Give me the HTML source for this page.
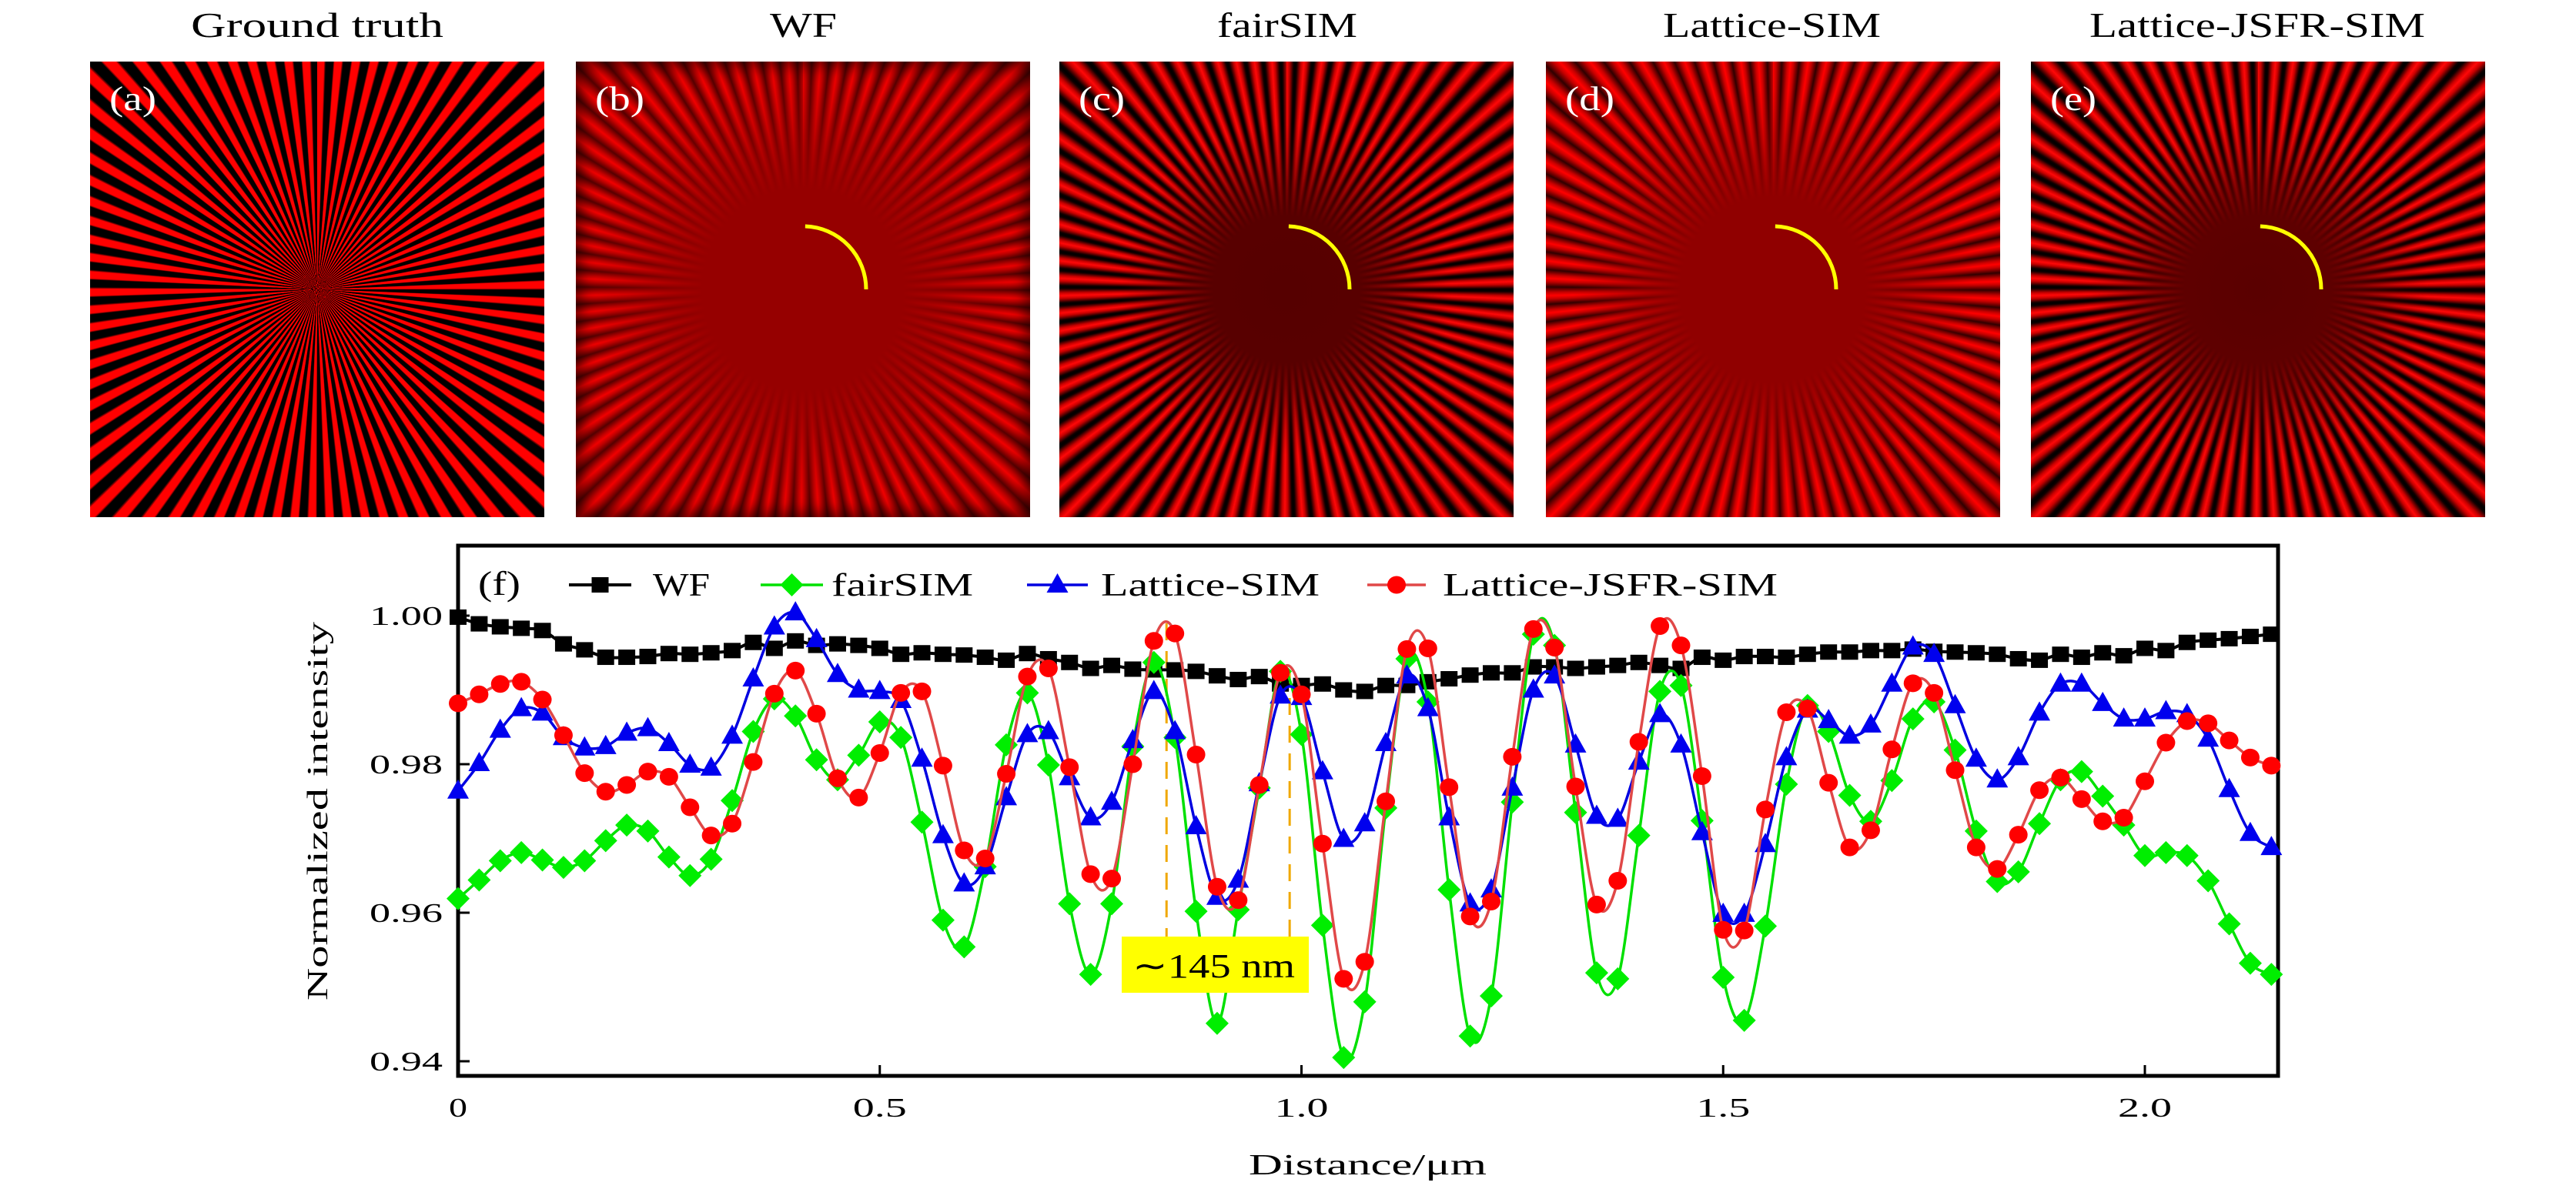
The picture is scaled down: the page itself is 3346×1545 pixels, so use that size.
<!DOCTYPE html>
<html><head><meta charset="utf-8">
<style>
html,body{margin:0;padding:0;background:#fff;}
body{width:3346px;height:1545px;position:relative;overflow:hidden;font-family:"Liberation Serif",serif;}
.panel{position:absolute;top:80px;width:590px;height:592px;overflow:hidden;}
.gt{background:repeating-conic-gradient(from 0deg at 50% 50%,#ff0000 0deg,#ff0000 1.7deg,#8a0000 1.9deg,#000 2.2deg,#000 4.0deg,#8a0000 4.2deg,#ff0000 4.4deg);}
.hc{background:repeating-conic-gradient(from 0deg at 50% 50%,#ff0808 0deg,#c80000 0.7deg,#100000 1.8deg,#000 2.2deg,#100000 2.6deg,#c80000 3.7deg,#ff0808 4.4deg);}
.lc{background:repeating-conic-gradient(from 0deg at 50% 50%,#f00000 0deg,#c00000 0.8deg,#560000 2.2deg,#c00000 3.6deg,#f00000 4.4deg);}
.mc{background:repeating-conic-gradient(from 0deg at 50% 50%,#ff0000 0deg,#c80000 0.8deg,#300000 2.2deg,#c80000 3.6deg,#ff0000 4.4deg);}
.ov{position:absolute;left:0;top:0;width:100%;height:100%;}
svg{position:absolute;left:0;top:0;}
</style></head>
<body>
<div class="panel gt" style="left:117px"></div>
<div class="panel lc" style="left:748px">
  <div class="ov" style="background:radial-gradient(circle at 50% 50%,#960000 0,#960000 130px,rgba(150,0,0,0.7) 180px,rgba(150,0,0,0.3) 230px,rgba(150,0,0,0) 280px);"></div>
  <div class="ov" style="box-shadow:inset 0 0 20px 6px rgba(0,0,0,0.6);"></div>
</div>
<div class="panel hc" style="left:1376px">
  <div class="ov" style="background:radial-gradient(circle at 50% 50%,#560000 0,#580000 95px,rgba(88,0,0,0.75) 130px,rgba(88,0,0,0.3) 175px,rgba(88,0,0,0) 215px);"></div>
</div>
<div class="panel mc" style="left:2008px">
  <div class="ov" style="background:radial-gradient(circle at 50% 50%,#900000 0,#900000 120px,rgba(144,0,0,0.7) 165px,rgba(144,0,0,0.3) 215px,rgba(144,0,0,0) 260px);"></div>
</div>
<div class="panel hc" style="left:2638px">
  <div class="ov" style="background:radial-gradient(circle at 50% 50%,#5a0000 0,#5e0000 95px,rgba(94,0,0,0.75) 135px,rgba(94,0,0,0.3) 180px,rgba(94,0,0,0) 220px);"></div>
</div>

<svg id="chart" width="3346" height="1545" viewBox="0 0 3346 1545" xmlns="http://www.w3.org/2000/svg" font-family="Liberation Serif, serif">
  <g font-size="46" fill="#000">
    <text x="248" y="48" textLength="328" lengthAdjust="spacingAndGlyphs">Ground truth</text>
    <text x="1000" y="48" textLength="87" lengthAdjust="spacingAndGlyphs">WF</text>
    <text x="1581" y="48" textLength="182" lengthAdjust="spacingAndGlyphs">fairSIM</text>
    <text x="2160" y="48" textLength="283" lengthAdjust="spacingAndGlyphs">Lattice-SIM</text>
    <text x="2714" y="48" textLength="436" lengthAdjust="spacingAndGlyphs">Lattice-JSFR-SIM</text>
  </g>
  <g font-size="44" fill="#fff">
    <text x="142" y="143" textLength="61" lengthAdjust="spacingAndGlyphs">(a)</text>
    <text x="773" y="143" textLength="64" lengthAdjust="spacingAndGlyphs">(b)</text>
    <text x="1401" y="143" textLength="60" lengthAdjust="spacingAndGlyphs">(c)</text>
    <text x="2033" y="143" textLength="64" lengthAdjust="spacingAndGlyphs">(d)</text>
    <text x="2663" y="143" textLength="60" lengthAdjust="spacingAndGlyphs">(e)</text>
  </g>
  <g id="arcs"></g>
  <g id="plot"></g>
</svg>

<script>
// ---- chart data ----
const xStep = 0.025;
const xTicks = [0, 0.5, 1.0, 1.5, 2.0];
const xTickLabels = ["0", "0.5", "1.0", "1.5", "2.0"];
const yTicks = [0.94, 0.96, 0.98, 1.00];
const yTickLabels = ["0.94", "0.96", "0.98", "1.00"];
const seriesNames = ["WF", "fairSIM", "Lattice-SIM", "Lattice-JSFR-SIM"];
const wfValues = [.9998,.9989,.9985,.9983,.9980,.9962,.9954,.9944,.9944,.9945,.9949,.9948,.9950,.9953,.9964,.9956,.9966,.9960,.9962,.9960,.9956,
 .9948,.9950,.9948,.9947,.9944,.9940,.9949,.9942,.9937,.9929,.9933,.9928,.9927,.9927,.9925,.9919,.9914,.9918,.9908,.9906,
 .9908,.9900,.9898,.9906,.9906,.9911,.9915,.9920,.9923,.9923,.9931,.9931,.9929,.9931,.9933,.9937,.9933,.9929,.9944,
 .9940,.9945,.9945,.9944,.9948,.9951,.9951,.9953,.9953,.9955,.9952,.9951,.9950,.9948,.9942,.9940,.9948,.9944,.9950,.9946,
 .9956,.9953,.9964,.9967,.9969,.9972,.9975];
const fairValues = [.9619,.9644,.9670,.9681,.9671,.9661,.9670,.9697,.9718,.9710,.9675,.9650,.9672,.9751,.9844,.9888,.9865,.9806,.9779,.9812,.9857,
 .9836,.9722,.9590,.9554,.9662,.9826,.9896,.9799,.9612,.9517,.9612,.9824,.9937,.9836,.9602,.9451,.9604,.9768,.9925,.9840,
 .9583,.9405,.9480,.9741,.9942,.9884,.9631,.9434,.9488,.9749,.9975,.9960,.9735,.9519,.9511,.9704,.9898,.9906,.9724,
 .9513,.9455,.9582,.9773,.9879,.9844,.9758,.9723,.9778,.9861,.9884,.9819,.9710,.9642,.9655,.9720,.9779,.9790,.9757,.9718,
 .9677,.9681,.9677,.9643,.9585,.9532,.9517];
const latticeValues = [.9764,.9801,.9846,.9875,.9869,.9836,.9822,.9824,.9842,.9848,.9828,.9799,.9795,.9838,.9915,.9985,1.0004,.9968,.9921,.9900,.9898,
 .9886,.9807,.9704,.9639,.9662,.9755,.9840,.9844,.9782,.9728,.9749,.9832,.9898,.9844,.9716,.9621,.9644,.9774,.9892,.9890,
 .9790,.9699,.9720,.9828,.9919,.9875,.9728,.9612,.9631,.9768,.9900,.9919,.9826,.9730,.9726,.9803,.9867,.9826,.9708,
 .9598,.9598,.9692,.9809,.9873,.9859,.9838,.9853,.9908,.9958,.9948,.9879,.9807,.9779,.9809,.9869,.9908,.9908,.9882,.9861,
 .9861,.9871,.9867,.9834,.9766,.9707,.9688];
const jsfrValues = [.9882,.9894,.9908,.9911,.9887,.9839,.9788,.9763,.9772,.9790,.9783,.9742,.9704,.9720,.9803,.9895,.9926,.9868,.9781,.9755,.9815,
 .9896,.9898,.9798,.9684,.9673,.9787,.9918,.9929,.9796,.9652,.9646,.9800,.9966,.9976,.9813,.9635,.9617,.9772,.9923,.9894,
 .9693,.9511,.9534,.9750,.9955,.9956,.9769,.9595,.9615,.9810,.9982,.9957,.9770,.9611,.9643,.9830,.9986,.9960,.9784,
 .9577,.9576,.9739,.9870,.9875,.9775,.9688,.9711,.9820,.9909,.9896,.9792,.9688,.9659,.9705,.9765,.9782,.9753,.9723,.9728,
 .9777,.9829,.9858,.9855,.9832,.9809,.9798];
const annotationX = [0.84, 0.986];
const annotationText = "\u223C145 nm";

const NS = "http://www.w3.org/2000/svg";
const L = 595, R = 2959, T = 709, B = 1398;
function xs(v){ return 595 + v * 1095.5; }
function ys(v){ return 1379 - (v - 0.94) * 9650; }
function mk(tag, attrs, parent){
  const e = document.createElementNS(NS, tag);
  for (const k in attrs) e.setAttribute(k, attrs[k]);
  parent.appendChild(e);
  return e;
}
const plot = document.getElementById('plot');

// arcs on images
const arcs = document.getElementById('arcs');
[748, 1376, 2008, 2638].forEach(function(px){
  const cx = px + 295, cy = 376, r = 82;
  const a0 = -88 * Math.PI / 180;
  const p = mk('path', {d: 'M' + (cx + r*Math.cos(a0)) + ' ' + (cy + r*Math.sin(a0)) + ' A ' + r + ' ' + r + ' 0 0 1 ' + (cx + r) + ' ' + cy, fill: 'none', stroke: '#ffff00', 'stroke-width': 5}, arcs);
  
  
});

// frame
const frame = mk('rect', {x: L, y: T, width: R - L, height: B - T, fill: '#fff', stroke: '#000', 'stroke-width': 5}, plot);



// ticks
yTicks.forEach(function(v, i){
  const y = ys(v);
  const t = mk('line', {x1: L, x2: L + 15, y1: y, y2: y, stroke: '#000', 'stroke-width': 3}, plot);
  
  
  const lb = mk('text', {x: 575, y: y + 12, 'text-anchor': 'end', 'font-size': 35, textLength: 95, lengthAdjust: 'spacingAndGlyphs'}, plot);
  lb.textContent = yTickLabels[i];
  
  
});
xTicks.forEach(function(v, i){
  const x = xs(v);
  const t = mk('line', {x1: x, x2: x, y1: B, y2: B - 14, stroke: '#000', 'stroke-width': 3}, plot);
  
  
  const w = xTickLabels[i].length === 1 ? 24 : 70;
  const lb = mk('text', {x: x, y: 1451, 'text-anchor': 'middle', 'font-size': 35, textLength: w, lengthAdjust: 'spacingAndGlyphs'}, plot);
  lb.textContent = xTickLabels[i];
  
  
});

// axis titles
const xt = mk('text', {x: 1622, y: 1526, 'font-size': 38, textLength: 309, lengthAdjust: 'spacingAndGlyphs'}, plot);
xt.textContent = 'Distance/\u03BCm';


const yt = mk('text', {x: 0, y: 0, 'font-size': 38, textLength: 492, lengthAdjust: 'spacingAndGlyphs', transform: 'translate(425,1300) rotate(-90)'}, plot);
yt.textContent = 'Normalized intensity';



// annotation
const annTop = [810, 871];
annotationX.forEach(function(v, i){
  const d = mk('line', {x1: xs(v), x2: xs(v), y1: annTop[i], y2: 1217, stroke: '#f0a800', 'stroke-width': 3, 'stroke-dasharray': '22 14'}, plot);
  
  
});

// series
function smoothPath(vals){
  const pts = vals.map(function(v, i){ return [xs(i * xStep), ys(v)]; });
  let d = 'M' + pts[0][0].toFixed(1) + ' ' + pts[0][1].toFixed(1);
  for (let i = 0; i < pts.length - 1; i++){
    const p0 = pts[Math.max(0, i - 1)], p1 = pts[i], p2 = pts[i + 1], p3 = pts[Math.min(pts.length - 1, i + 2)];
    const c1x = p1[0] + (p2[0] - p0[0]) / 6, c1y = p1[1] + (p2[1] - p0[1]) / 6;
    const c2x = p2[0] - (p3[0] - p1[0]) / 6, c2y = p2[1] - (p3[1] - p1[1]) / 6;
    d += ' C' + c1x.toFixed(1) + ' ' + c1y.toFixed(1) + ' ' + c2x.toFixed(1) + ' ' + c2y.toFixed(1) + ' ' + p2[0].toFixed(1) + ' ' + p2[1].toFixed(1);
  }
  return d;
}
function marker(kind, x, y, color, parent){
  let e;
  if (kind === 'square') e = mk('rect', {x: x - 11, y: y - 10, width: 22, height: 20, fill: color}, parent);
  else if (kind === 'diamond') e = mk('polygon', {points: (x) + ',' + (y - 15) + ' ' + (x + 15) + ',' + y + ' ' + x + ',' + (y + 15) + ' ' + (x - 15) + ',' + y, fill: color}, parent);
  else if (kind === 'triangle') e = mk('polygon', {points: x + ',' + (y - 15) + ' ' + (x + 14) + ',' + (y + 10) + ' ' + (x - 14) + ',' + (y + 10), fill: color}, parent);
  else e = mk('ellipse', {cx: x, cy: y, rx: 12, ry: 11.5, fill: color}, parent);
  return e;
}
const seriesDefs = [
  {vals: wfValues, line: '#000000', fill: '#000000', kind: 'square', lw: 4, name: 'series-wf'},
  {vals: fairValues, line: '#00e000', fill: '#00ee00', kind: 'diamond', lw: 3.5, name: 'series-fairsim'},
  {vals: latticeValues, line: '#0000e0', fill: '#0000ee', kind: 'triangle', lw: 3.5, name: 'series-lattice-sim'},
  {vals: jsfrValues, line: '#e04848', fill: '#ff0000', kind: 'circle', lw: 3.5, name: 'series-lattice-jsfr-sim'}
];
seriesDefs.forEach(function(s){
  const g = mk('g', {}, plot);
  
  
  const p = mk('path', {d: smoothPath(s.vals), fill: 'none', stroke: s.line, 'stroke-width': s.lw}, g);
  
  
  s.vals.forEach(function(v, i){
    const m = marker(s.kind, xs(i * xStep), ys(v), s.fill, g);
    
    
  });
});

// annotation box on top
const box = mk('rect', {x: 1457, y: 1217, width: 243, height: 73, fill: '#ffff00'}, plot);


const at = mk('text', {x: 1471, y: 1270, 'font-size': 44, textLength: 211, lengthAdjust: 'spacingAndGlyphs'}, plot);
at.textContent = annotationText;



// legend
const pl = mk('text', {x: 621, y: 773, 'font-size': 44, textLength: 55, lengthAdjust: 'spacingAndGlyphs'}, plot);
pl.textContent = '(f)';


const legendLine = [[739, 820], [988, 1069], [1334, 1413], [1776, 1852]];
const legendText = [[848, 74], [1080, 184], [1430, 284], [1874, 435]];
seriesDefs.forEach(function(s, i){
  const g = mk('g', {}, plot);
  
  
  const y = 760;
  mk('line', {x1: legendLine[i][0], x2: legendLine[i][1], y1: y, y2: y, stroke: s.line, 'stroke-width': s.lw}, g);
  marker(s.kind, (legendLine[i][0] + legendLine[i][1]) / 2, y, s.fill, g);
  const t = mk('text', {x: legendText[i][0], y: 774, 'font-size': 42, textLength: legendText[i][1], lengthAdjust: 'spacingAndGlyphs'}, g);
  t.textContent = seriesNames[i];
});
</script>
</body></html>
